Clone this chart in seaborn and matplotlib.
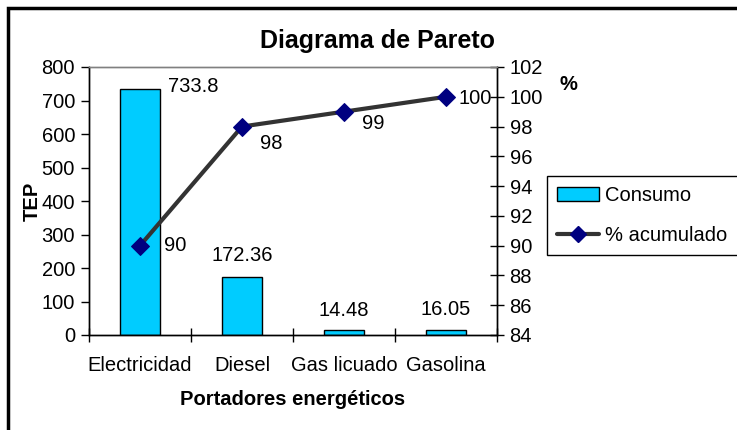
import numpy as np
import pandas as pd
import seaborn as sns
import matplotlib.pyplot as plt
from matplotlib.patches import Rectangle
from matplotlib.lines import Line2D

# datos del diagrama de Pareto
portadores = ['Electricidad', 'Diesel', 'Gas licuado', 'Gasolina']
consumo = [733.8, 172.36, 14.48, 16.05]
acumulado = [90, 98, 99, 100]
etiquetas_consumo = ['733.8', '172.36', '14.48', '16.05']
etiquetas_acum = ['90', '98', '99', '100']

sns.set_theme(style='white')
plt.rcParams['font.family'] = ['Liberation Sans', 'DejaVu Sans']
plt.rcParams['text.color'] = 'black'

fs = 14.5
fig = plt.figure(figsize=(7.37, 4.30), dpi=100)
ax = fig.add_axes([89 / 737, 1 - 335 / 430, (497 - 89) / 737, (335 - 67) / 430])

df = pd.DataFrame({'Portador': portadores, 'TEP': consumo})
sns.barplot(data=df, x='Portador', y='TEP', ax=ax, color='#00CCFF', saturation=1,
            width=0.39, edgecolor='black', linewidth=1)
ax.set_xlim(-0.5, 3.5)
ax.set_ylim(0, 800)
ax.set_yticks(range(0, 801, 100))
ax.set_xticks(np.arange(-0.5, 4, 1), minor=True)
ax.tick_params(axis='x', which='major', length=0, labelsize=fs, pad=15, colors='black')
ax.tick_params(axis='x', which='minor', direction='inout', length=10, width=1, bottom=True, colors='black')
ax.tick_params(axis='y', direction='out', length=6, width=1, left=True, labelsize=fs, pad=4, colors='black')
ax.set_xlabel('Portadores energéticos', fontsize=fs, fontweight='bold', labelpad=11, color='black')
ax.set_ylabel('TEP', fontsize=fs, fontweight='bold', labelpad=0, color='black')

pos = np.arange(len(portadores))
ax2 = ax.twinx()
sns.lineplot(x=pos, y=acumulado, ax=ax2, color='#333333', lw=3, marker='D', markersize=9.5,
             markerfacecolor='#000080', markeredgecolor='#000080')
ax2.set_ylim(84, 102)
ax2.set_yticks(range(84, 103, 2))
ax2.tick_params(axis='y', direction='inout', length=10, width=1, right=True, labelsize=fs, pad=4, colors='black')
ax2.set_ylabel('')

for a in (ax, ax2):
    for s in ('left', 'bottom', 'right'):
        a.spines[s].set_color('black')
        a.spines[s].set_linewidth(1)
    a.spines['top'].set_color('#808080')
    a.spines['top'].set_linewidth(1)
    a.grid(False)

# etiquetas de las barras
offsets_barras = [(53, 3), (0, 22), (0, 20), (0, 20)]
for x, v, t, off in zip(pos, consumo, etiquetas_consumo, offsets_barras):
    ax.annotate(t, (x, v), xytext=off, textcoords='offset pixels', ha='center', va='center',
                fontsize=fs, color='black')

offsets_linea = [(35, 0), (29, -17), (29, -12), (29, -2)]
for x, v, t, off in zip(pos, acumulado, etiquetas_acum, offsets_linea):
    ax2.annotate(t, (x, v), xytext=off, textcoords='offset pixels', ha='center', va='center',
                 fontsize=fs, color='black')

fig.text(378 / 737, 1 - 41 / 430, 'Diagrama de Pareto', ha='center', va='center',
         fontsize=18, fontweight='bold', color='black')
fig.text(568 / 737, 1 - 84 / 430, '%', ha='center', va='center', fontsize=fs, fontweight='bold', color='black')

handles = [Rectangle((0, 0), 1, 1, facecolor='#00CCFF', edgecolor='black', lw=1),
           Line2D([], [], color='#333333', lw=3, marker='D', markersize=8,
                  markerfacecolor='#000080', markeredgecolor='#000080')]
leg = fig.legend(handles, ['Consumo', '% acumulado'], loc='upper left',
                 bbox_to_anchor=(547 / 737, 1 - 176 / 430), fontsize=fs, frameon=True,
                 fancybox=False, framealpha=1, borderpad=0.5, labelspacing=1.05,
                 handlelength=2.1, handletextpad=0.3, borderaxespad=0)
leg.get_frame().set_edgecolor('black')
leg.get_frame().set_linewidth(1)
for t in leg.get_texts():
    t.set_color('black')

# marco del grafico
fig.patches.append(Rectangle((8 / 737, -0.2), 1.2, 1 - 8 / 430 + 0.2, transform=fig.transFigure,
                             fill=False, edgecolor='black', lw=2.5))

fig.savefig('out.png', dpi=100)
